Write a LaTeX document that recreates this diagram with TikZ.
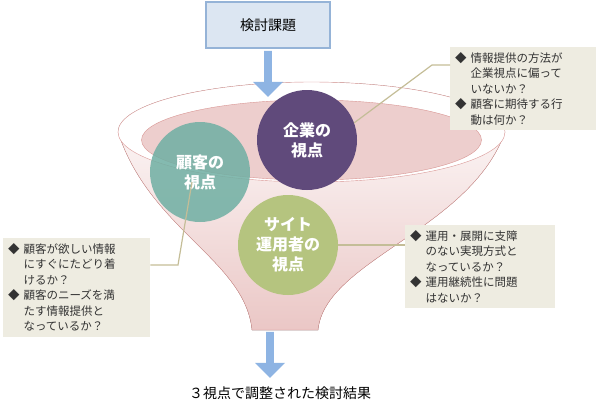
\documentclass[tikz,border=0pt]{standalone}
\usepackage{fontspec}
\setmainfont{Noto Sans CJK JP}
\usetikzlibrary{shapes.arrows}
\definecolor{boxblue}{HTML}{DCE6F2}
\definecolor{lineblue}{HTML}{95B3D7}
\definecolor{arrowblue}{HTML}{8EB4E3}
\definecolor{funnelred}{HTML}{D99694}
\definecolor{funnelpink}{HTML}{F2DCDB}
\definecolor{firmpurple}{HTML}{604A7B}
\definecolor{custteal}{HTML}{6FAFA3}
\definecolor{siteolive}{HTML}{B5C47F}
\definecolor{notebeige}{HTML}{EEECE1}
\definecolor{noteline}{HTML}{C4BD97}
\tikzset{
  view/.style={circle,minimum size=100,text=white,font=\fontsize{16}{20}\selectfont\bfseries,align=center,inner sep=0},
  note/.style={fill=notebeige,anchor=north west,align=left,inner sep=5,font=\fontsize{11.5}{15.5}\selectfont,text=black!80},
  flow/.style={fill=arrowblue,draw=none,single arrow,shape border rotate=270,single arrow head extend=10,minimum width=30},
  lead/.style={draw=noteline,line width=1.2}
}
\begin{document}
\begin{tikzpicture}[x=1pt,y=-1pt]
  \useasboundingbox (0,0) rectangle (600,405);
  % task box
  \node (task) [draw=lineblue,line width=2,fill=boxblue,minimum width=124,minimum height=46,font=\fontsize{14}{16}\selectfont] at (268,25) {検討課題};
  % funnel
  \fill[top color=white,bottom color=funnelpink!70!funnelred] (118,132) .. controls (150,230) and (245,260) .. (252,330) -- (318,330) .. controls (325,260) and (470,230) .. (505,132) arc[start angle=0,end angle=-180,x radius=193.5,y radius=50] -- cycle;
  \draw[funnelred] (118,132) .. controls (150,230) and (245,260) .. (252,330) -- (318,330) .. controls (325,260) and (470,230) .. (505,132);
  \draw[funnelred,fill=white] (311.5,132) ellipse[x radius=193.5,y radius=50];
  \draw[funnelred,fill=funnelpink!80!funnelred] (311.5,140) ellipse[x radius=170,y radius=40];
  \node (inflow) [flow,minimum height=46] at (268,72) {};
  \node (outflow) [flow,minimum height=46] at (270,353) {};
  % views
  \node (firm) [view,fill=firmpurple] at (307,140) {企業の\\視点};
  \node (cust) [view,fill=custteal,opacity=.85,text opacity=1] at (200,172) {顧客の\\視点};
  \node (site) [view,fill=siteolive] at (288,245) {サイト\\運用者の\\視点};
  % notes
  \node (firmnote) [note,text width=136] at (450,47) {◆\ 情報提供の方法が\\\phantom{◆\ }企業視点に偏って\\\phantom{◆\ }いないか？\\◆\ 顧客に期待する行\\\phantom{◆\ }動は何か？};
  \node (sitenote) [note,text width=140] at (405,225) {◆\ 運用・展開に支障\\\phantom{◆\ }のない実現方式と\\\phantom{◆\ }なっているか？\\◆\ 運用継続性に問題\\\phantom{◆\ }はないか？};
  \node (custnote) [note,text width=137] at (3,238) {◆\ 顧客が欲しい情報\\\phantom{◆\ }にすぐにたどり着\\\phantom{◆\ }けるか？\\◆\ 顧客のニーズを満\\\phantom{◆\ }たす情報提供と\\\phantom{◆\ }なっているか？};
  \coordinate (firmbend) at (432,65);
  \coordinate (custbend) at (178,265);
  \draw[lead] (firm.20) -- (firmbend) -- (firmnote.west |- firmbend);
  \draw[lead] (site.east) -- (sitenote.west |- site.east);
  \draw[lead] (cust.center) ++(-8,10) -- (custbend) -- (custnote.east |- custbend);
  \node (result) [font=\fontsize{14}{16}\selectfont] at (280,393) {３視点で調整された検討結果};
\end{tikzpicture}
\end{document}
